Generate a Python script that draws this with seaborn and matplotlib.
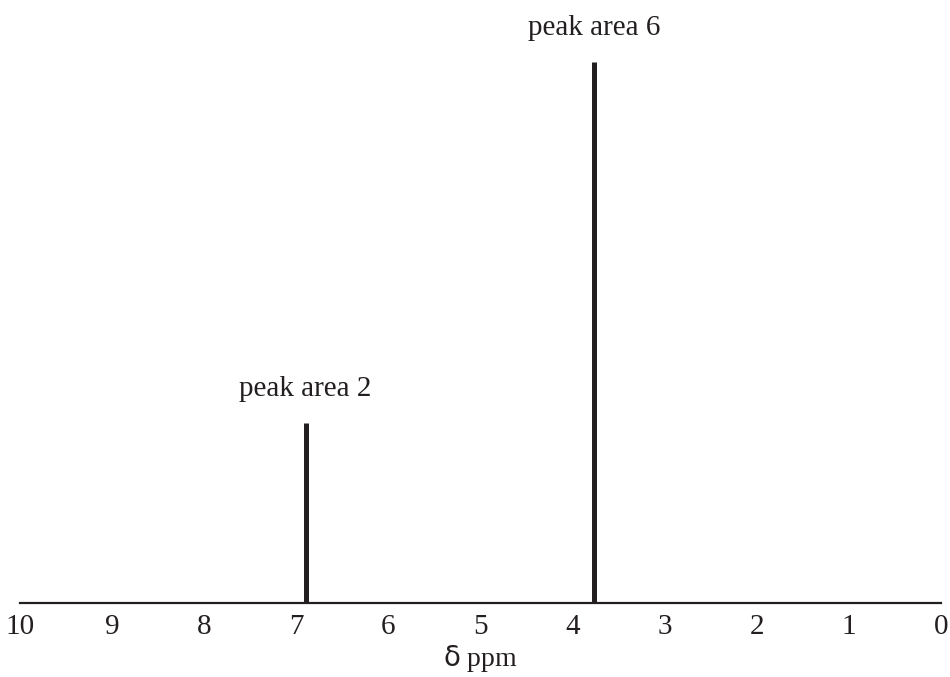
import matplotlib
matplotlib.use("Agg")
import matplotlib.pyplot as plt
import seaborn as sns
import numpy as np

# Data
shifts = [6.90, 3.77]          # δ ppm
areas = [2, 6]                 # peak areas (heights proportional)
labels = ["peak area 2", "peak area 6"]
ticks = list(range(0, 11))

sns.set_style("white")
plt.rcParams['font.family'] = ['Liberation Serif', 'DejaVu Serif']
plt.rcParams['mathtext.fontset'] = 'dejavusans'

ink = "#231f20"
fig = plt.figure(figsize=(9.5, 6.77), dpi=100)
ax = fig.add_axes([20/950, 1 - 603/677, 921/950, 603/677])

ax.vlines(shifts, 0, areas, colors=ink, linewidth=3.6)
for x, h, lab in zip(shifts, areas, labels):
    ax.annotate(lab, (x, h), xytext=(0, 15), textcoords="offset points",
                ha="center", va="bottom", fontsize=21, color=ink)

ax.set_xlim(10, 0)
ax.set_ylim(0, 603 / 90.17)
ax.set_xticks(ticks)
ax.set_xticklabels([str(t) for t in ticks], fontsize=21, color=ink)
ax.set_yticks([])
for s in ["left", "top", "right"]:
    ax.spines[s].set_visible(False)
ax.spines["bottom"].set_color(ink)
ax.spines["bottom"].set_linewidth(1.6)
ax.tick_params(axis="x", direction="out", length=4, width=1.6, color=ink, pad=4)
ax.set_xlabel(r"$\mathrm{\delta}$ ppm", fontsize=20, color=ink, labelpad=2)

fig.savefig("out.png", dpi=100)
